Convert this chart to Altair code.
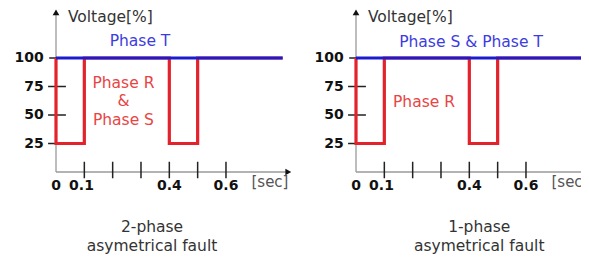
import altair as alt
import pandas as pd

# ---------------- data ----------------
t_fault = [0, 0, 0.1, 0.1, 0.4, 0.4, 0.5, 0.5, 0.8]
v_fault = [100, 25, 25, 100, 100, 25, 25, 100, 100]
t_healthy = [0, 0.8]
v_healthy = [100, 100]
x_ticks = [0.1, 0.2, 0.3, 0.4, 0.5, 0.6]
x_label_text = ["0", "0.1", "0.4", "0.6"]
x_label_pos = [0.0, 0.09, 0.4, 0.6]
y_ticks = [75, 50, 25]
y_label_text = ["100", "75", "50", "25"]
y_label_pos = [100, 75, 50, 25]

left_healthy_label = ["Phase T"]
left_fault_label = ["Phase R", "&", "Phase S"]
right_healthy_label = ["Phase S & Phase T"]
right_fault_label = ["Phase R"]
left_title = ["2-phase", "asymetrical fault"]
right_title = ["1-phase", "asymetrical fault"]

# ---------------- geometry ----------------
PX_X = 283.3           # px per 1.0 sec
PX_Y = 28.5 / 25.0     # px per 1 %
H = 243
Y_MAX = 164 / PX_Y
Y_MIN = Y_MAX - H / PX_Y

RED = "#e3222b"
BLUE = "#1c1ccf"
RED_TXT = "#e84444"
BLUE_TXT = "#3c3ce0"
FONT = "DejaVu Sans"


def panel(x_origin_px, width, healthy_lbl, healthy_xy, fault_lbl, fault_xy, title, title_x):
    xmin = -x_origin_px / PX_X
    xmax = xmin + width / PX_X
    xs = alt.Scale(domain=[xmin, xmax], nice=False, zero=False)
    ys = alt.Scale(domain=[Y_MIN, Y_MAX], nice=False, zero=False)

    def X(f):
        return alt.X(f, type="quantitative", scale=xs, axis=None)

    def Y(f):
        return alt.Y(f, type="quantitative", scale=ys, axis=None)

    fault_df = pd.DataFrame({"t": t_fault, "v": v_fault, "i": range(len(t_fault))})
    healthy_df = pd.DataFrame({"t": t_healthy, "v": v_healthy, "i": range(len(t_healthy))})

    layers = []
    # axes lines
    axes_df = pd.DataFrame({"x": [0, 0], "x2": [0, 0.815], "y": [0, 0], "y2": [141, 0]})
    layers.append(alt.Chart(axes_df).mark_rule(color="#9a9a9a", strokeWidth=1.3, clip=True).encode(
        x=X("x"), x2="x2", y=Y("y"), y2="y2"))
    # arrows
    arr_up = pd.DataFrame({"x": [0], "y": [140]})
    layers.append(alt.Chart(arr_up).mark_point(shape="triangle-up", filled=True, size=45,
                                               color="#111", opacity=1, clip=True).encode(x=X("x"), y=Y("y")))
    arr_r = pd.DataFrame({"x": [0.82], "y": [0]})
    layers.append(alt.Chart(arr_r).mark_point(shape="triangle-right", filled=True, size=45,
                                              color="#111", opacity=1, clip=True).encode(x=X("x"), y=Y("y")))
    # x ticks
    xt = pd.DataFrame({"x": x_ticks, "y": [9] * len(x_ticks), "y2": [-5.5] * len(x_ticks)})
    layers.append(alt.Chart(xt).mark_rule(color="#222", strokeWidth=1.5).encode(
        x=X("x"), y=Y("y"), y2="y2"))
    # y ticks
    yt = pd.DataFrame({"y": y_ticks, "x": [-0.028] * len(y_ticks), "x2": [0.035] * len(y_ticks)})
    layers.append(alt.Chart(yt).mark_rule(color="#222", strokeWidth=1.5).encode(
        y=Y("y"), x=X("x"), x2="x2"))
    yt100 = pd.DataFrame({"y": [100], "x": [-0.024], "x2": [0]})
    layers.append(alt.Chart(yt100).mark_rule(color="#222", strokeWidth=1.5).encode(
        y=Y("y"), x=X("x"), x2="x2"))
    # tick labels
    xl = pd.DataFrame({"x": x_label_pos, "y": [-12.5] * 4, "t": x_label_text})
    layers.append(alt.Chart(xl).mark_text(font=FONT, fontSize=14, fontWeight="bold", color="#111",
                                          align="center", baseline="middle").encode(
        x=X("x"), y=Y("y"), text="t:N"))
    yl = pd.DataFrame({"x": [-0.043] * 4, "y": y_label_pos, "t": y_label_text})
    layers.append(alt.Chart(yl).mark_text(font=FONT, fontSize=14, fontWeight="bold", color="#111",
                                          align="right", baseline="middle").encode(
        x=X("x"), y=Y("y"), text="t:N"))
    # axis titles
    vt = pd.DataFrame({"x": [0.042], "y": [136.3], "t": ["Voltage[%]"]})
    layers.append(alt.Chart(vt).mark_text(font=FONT, fontSize=15.5, color="#333",
                                          align="left", baseline="middle").encode(
        x=X("x"), y=Y("y"), text="t:N"))
    st = pd.DataFrame({"x": [0.69], "y": [-8.5], "t": ["[sec]"]})
    layers.append(alt.Chart(st).mark_text(font=FONT, fontSize=15, color="#555",
                                          align="left", baseline="middle", clip=True).encode(
        x=X("x"), y=Y("y"), text="t:N"))
    # waveforms
    layers.append(alt.Chart(fault_df).mark_line(color=RED, strokeWidth=3.2, strokeJoin="miter",
                                                clip=True).encode(
        x=X("t"), y=Y("v"), order="i:Q"))
    layers.append(alt.Chart(healthy_df).mark_line(color=BLUE, strokeWidth=2.8, clip=True).encode(
        x=X("t"), y=Y("v"), order="i:Q"))
    # annotations
    hx, hy = healthy_xy
    hl = pd.DataFrame({"x": [hx] * len(healthy_lbl), "y": hy, "t": healthy_lbl})
    layers.append(alt.Chart(hl).mark_text(font=FONT, fontSize=15.5, color=BLUE_TXT,
                                          align="center", baseline="middle").encode(
        x=X("x"), y=Y("y"), text="t:N"))
    fx, fy = fault_xy
    fl = pd.DataFrame({"x": [fx] * len(fault_lbl), "y": fy, "t": fault_lbl})
    layers.append(alt.Chart(fl).mark_text(font=FONT, fontSize=15.5, color=RED_TXT,
                                          align="center", baseline="middle").encode(
        x=X("x"), y=Y("y"), text="t:N"))
    tl = pd.DataFrame({"x": [title_x] * len(title), "y": [-48.5, -64.5], "t": title})
    layers.append(alt.Chart(tl).mark_text(font=FONT, fontSize=15.5, color="#333",
                                          align="center", baseline="middle").encode(
        x=X("x"), y=Y("y"), text="t:N"))

    return alt.layer(*layers).properties(width=width, height=H)


left = panel(48, 292, left_healthy_label, (0.2965, [115]),
             left_fault_label, (0.238, [78.5, 62, 45.5]), left_title, 0.339)
right = panel(56, 281, right_healthy_label, (0.406, [114]),
              right_fault_label, (0.24, [61.5]), right_title, 0.435)

chart = alt.hconcat(left, right, spacing=0, bounds="flush").properties(
    padding=0
).configure_view(stroke=None)

chart.save("out.html", embed_options={"renderer": "svg", "actions": False})
